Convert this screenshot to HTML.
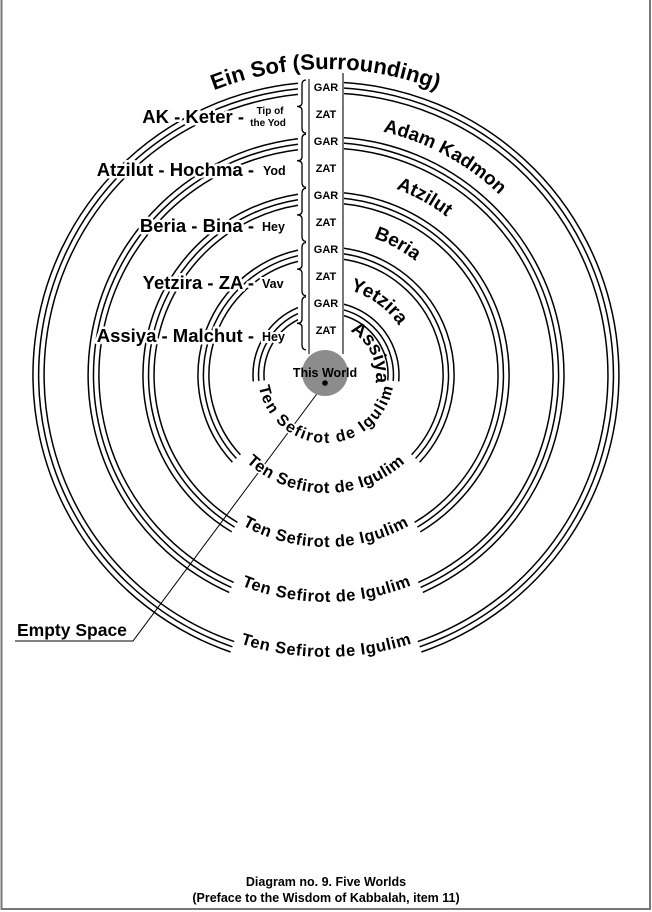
<!DOCTYPE html>
<html><head><meta charset="utf-8"><style>
html,body{margin:0;padding:0;background:#fff}
svg{display:block}
text{font-family:"Liberation Sans",Arial,sans-serif;font-weight:bold;fill:#000}
.lbl{font-size:18.5px;stroke:#fff;stroke-width:5px;paint-order:stroke;stroke-linejoin:round}
.sm{font-size:12.5px;stroke:#fff;stroke-width:4px;paint-order:stroke}
.tiny{font-size:10px}
.gz{font-size:11px}
.ring{font-size:19px}
.bot{font-size:16.5px;letter-spacing:0.6px;stroke:#fff;stroke-width:3px;paint-order:stroke}
</style></head><body>
<svg id="s" width="652" height="912" viewBox="0 0 652 912" xmlns="http://www.w3.org/2000/svg">
<rect x="1.5" y="-2" width="648.5" height="911" fill="none" stroke="#777" stroke-width="2"/>
<defs>
<path id="cw306" d="M20,375 A306,306 0 0 1 632,375 A306,306 0 0 1 20,375"/>
<path id="cw250" d="M76,375 A250,250 0 0 1 576,375 A250,250 0 0 1 76,375"/>
<path id="cw199" d="M127,375 A199,199 0 0 1 525,375 A199,199 0 0 1 127,375"/>
<path id="cw145" d="M181,375 A145,145 0 0 1 471,375 A145,145 0 0 1 181,375"/>
<path id="cw88" d="M238,375 A88,88 0 0 1 414,375 A88,88 0 0 1 238,375"/>
<path id="cw50" d="M276,375 A50,50 0 0 1 376,375 A50,50 0 0 1 276,375"/>
<path id="cc282" d="M44,375 A282,282 0 0 0 608,375 A282,282 0 0 0 44,375"/>
<path id="cc227" d="M99,375 A227,227 0 0 0 553,375 A227,227 0 0 0 99,375"/>
<path id="cc172" d="M154,375 A172,172 0 0 0 498,375 A172,172 0 0 0 154,375"/>
<path id="cc118" d="M208,375 A118,118 0 0 0 444,375 A118,118 0 0 0 208,375"/>
<path id="cc68" d="M258,375 A68,68 0 0 0 394,375 A68,68 0 0 0 258,375"/>
</defs>
<g id="rings" fill="none" stroke="#000" stroke-width="1.5"></g>

<line x1="309" y1="79" x2="309" y2="354" stroke="#777" stroke-width="2"/>
<line x1="343" y1="73" x2="343" y2="354" stroke="#777" stroke-width="2"/>
<g id="braces" fill="none" stroke="#000" stroke-width="1.3"></g>

<polyline points="325,383 133,641 15,641" fill="none" stroke="#000" stroke-width="1"/>
<circle cx="325" cy="373" r="23" fill="#8c8c8c"/>
<circle cx="325" cy="383" r="2.8" fill="#000"/>
<text x="325" y="377" text-anchor="middle" style="font-size:12.5px">This World</text>

<g text-anchor="middle">
<text class="gz" x="326" y="91">GAR</text><text class="gz" x="326" y="118">ZAT</text>
<text class="gz" x="326" y="145">GAR</text><text class="gz" x="326" y="172">ZAT</text>
<text class="gz" x="326" y="199">GAR</text><text class="gz" x="326" y="226">ZAT</text>
<text class="gz" x="326" y="253">GAR</text><text class="gz" x="326" y="280">ZAT</text>
<text class="gz" x="326" y="307">GAR</text><text class="gz" x="326" y="334">ZAT</text>
</g>

<text class="lbl" x="244" y="123" text-anchor="end">AK - Keter -</text>
<text class="tiny" x="270" y="114" text-anchor="middle" style="stroke:#fff;stroke-width:3px;paint-order:stroke">Tip of</text>
<text class="tiny" x="268" y="126" text-anchor="middle" style="stroke:#fff;stroke-width:3px;paint-order:stroke">the Yod</text>
<text class="lbl" x="254" y="176" text-anchor="end">Atzilut - Hochma -</text>
<text class="sm" x="263" y="175">Yod</text>
<text class="lbl" x="254" y="232" text-anchor="end">Beria - Bina -</text>
<text class="sm" x="262" y="231">Hey</text>
<text class="lbl" x="254" y="289" text-anchor="end">Yetzira - ZA -</text>
<text class="sm" x="262" y="288">Vav</text>
<text class="lbl" x="254" y="342" text-anchor="end">Assiya - Malchut -</text>
<text class="sm" x="262" y="341">Hey</text>

<text style="font-size:22px" text-anchor="middle"><textPath href="#cw306" startOffset="480">Ein Sof (Surrounding)</textPath></text>
<text class="ring" text-anchor="middle"><textPath href="#cw250" startOffset="517">Adam Kadmon</textPath></text>
<text class="ring" text-anchor="middle"><textPath href="#cw199" startOffset="413">Atzilut</textPath></text>
<text class="ring" text-anchor="middle"><textPath href="#cw145" startOffset="300">Beria</textPath></text>
<text class="ring" text-anchor="middle"><textPath href="#cw88" startOffset="193">Yetzira</textPath></text>
<text class="ring" text-anchor="middle"><textPath href="#cw50" startOffset="134">Assiya</textPath></text>

<text class="bot" text-anchor="middle"><textPath href="#cc282" startOffset="443">Ten Sefirot de Igulim</textPath></text>
<text class="bot" text-anchor="middle"><textPath href="#cc227" startOffset="357">Ten Sefirot de Igulim</textPath></text>
<text class="bot" text-anchor="middle"><textPath href="#cc172" startOffset="270">Ten Sefirot de Igulim</textPath></text>
<text class="bot" text-anchor="middle"><textPath href="#cc118" startOffset="185">Ten Sefirot de Igulim</textPath></text>
<text class="bot" text-anchor="middle" style="letter-spacing:1.6px;font-size:16px"><textPath href="#cc68" startOffset="107">Ten Sefirot de Igulim</textPath></text>

<text x="17" y="636" style="font-size:17.5px">Empty Space</text>

<text x="326" y="886" text-anchor="middle" style="font-size:12.5px">Diagram no. 9. Five Worlds</text>
<text x="326" y="902" text-anchor="middle" style="font-size:12.5px">(Preface to the Wisdom of Kabbalah, item 11)</text>
</svg>
<script>
(function(){
var NS="http://www.w3.org/2000/svg",cx=326,cy=375;
var R=[293,238,183,128,73],G=[19,24,31,47,85];
var g=document.getElementById("rings"),d="";
function pt(r,a){a=a*Math.PI/180;return [(cx+r*Math.sin(a)).toFixed(1),(cy-r*Math.cos(a)).toFixed(1)];}
function arc(r,a1,a2){var p=pt(r,a1),q=pt(r,a2),l=(a2-a1)>180?1:0;return "M"+p[0]+","+p[1]+" A"+r+","+r+" 0 "+l+" 1 "+q[0]+","+q[1]+" ";}
for(var k=0;k<5;k++){for(var o=0;o<3;o++){var r=R[k]-o*5.5;
var aL=360-Math.asin(28/r)*180/Math.PI,aR=Math.asin(17/r)*180/Math.PI;
d+=arc(r,180+G[k],aL);d+=arc(r,aR,180-G[k]);}}
var p=document.createElementNS(NS,"path");p.setAttribute("d",d);g.appendChild(p);
var b=document.getElementById("braces"),bd="";
for(var i=0;i<5;i++){var t=80+54.2*i,bt=t+53,m=(t+bt)/2;
bd+="M306,"+t+" Q302,"+t+" 302,"+(t+5)+" L302,"+(m-4)+" Q302,"+m+" 297,"+m+" Q302,"+m+" 302,"+(m+4)+" L302,"+(bt-5)+" Q302,"+bt+" 306,"+bt+" ";}
var q=document.createElementNS(NS,"path");q.setAttribute("d",bd);b.appendChild(q);
})();
</script>
</body></html>
